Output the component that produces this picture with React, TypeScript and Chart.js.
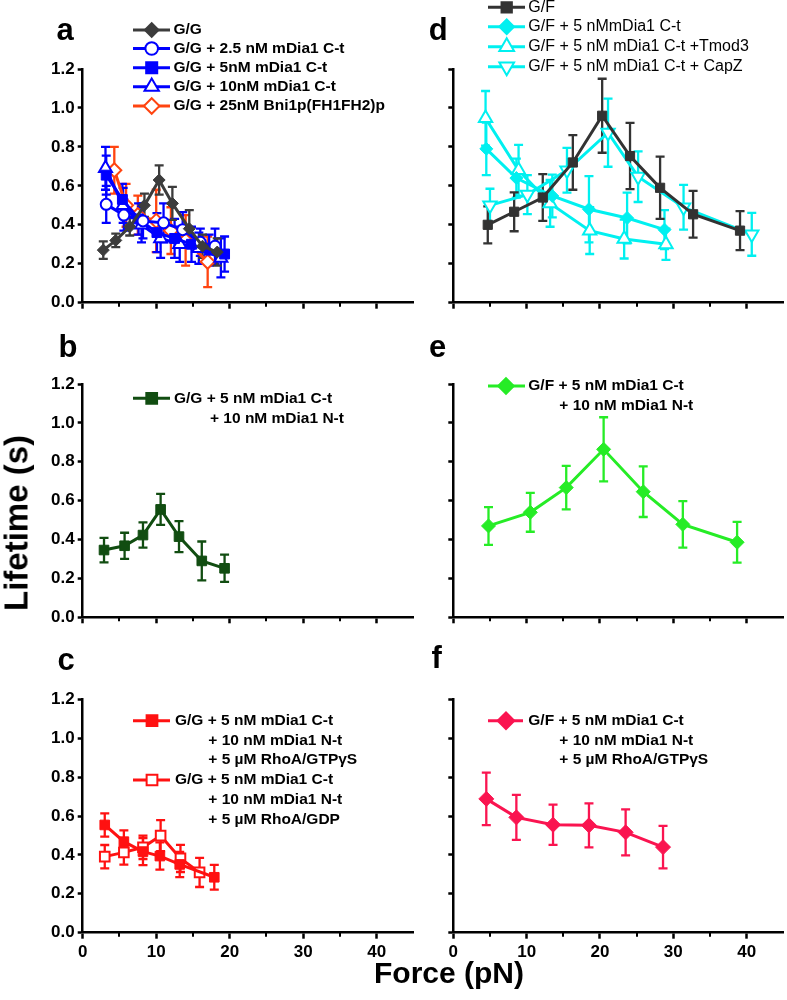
import React, { useEffect, useRef } from 'react';
import { Chart, registerables } from 'chart.js';

Chart.register(...registerables);

const FONT = "'Liberation Sans', Arial, Helvetica, sans-serif";

// ---------- shared axes ----------
const X_MIN = 0;
const X_MAX = 45;
const X_STEP = 5;
const X_LABEL_EVERY = 10;
const Y_MIN = 0;
const Y_MAX = 1.2;
const Y_STEP = 0.2;

// ---------- panel a (G/G) ----------
const aGG_x = [2.8, 4.5, 6.4, 8.4, 10.4, 12.2, 14.5, 16.3, 18.3];
const aGG_y = [0.27, 0.32, 0.39, 0.5, 0.63, 0.51, 0.38, 0.29, 0.26];
const aGG_e = [0.045, 0.035, 0.045, 0.06, 0.075, 0.085, 0.095, 0.06, 0.07];

const aC25_x = [3.2, 5.6, 8.2, 11.0, 13.6, 16.0, 18.0];
const aC25_y = [0.505, 0.45, 0.42, 0.41, 0.375, 0.31, 0.29];
const aC25_e = [0.095, 0.08, 0.09, 0.1, 0.09, 0.07, 0.09];

const aC5_x = [3.2, 5.4, 7.6, 10.1, 12.5, 14.8, 17.2, 19.3];
const aC5_y = [0.655, 0.53, 0.43, 0.36, 0.33, 0.3, 0.27, 0.25];
const aC5_e = [0.1, 0.08, 0.08, 0.1, 0.1, 0.09, 0.08, 0.09];

const aC10_x = [3.1, 5.5, 8.0, 10.6, 13.2, 15.8, 18.8];
const aC10_y = [0.69, 0.5, 0.4, 0.33, 0.3, 0.28, 0.23];
const aC10_e = [0.11, 0.09, 0.09, 0.1, 0.09, 0.08, 0.1];

const aBni_x = [4.3, 5.9, 7.5, 10.0, 12.0, 14.0, 17.0];
const aBni_y = [0.68, 0.5, 0.45, 0.42, 0.37, 0.32, 0.21];
const aBni_e = [0.12, 0.11, 0.1, 0.16, 0.12, 0.13, 0.13];

const aLabels = [
  ['G/G'],
  ['G/G + 2.5 nM mDia1 C-t'],
  ['G/G + 5nM mDia1 C-t'],
  ['G/G + 10nM mDia1 C-t'],
  ['G/G + 25nM Bni1p(FH1FH2)p'],
];

// ---------- panel b ----------
const b_x = [2.9, 5.7, 8.2, 10.6, 13.1, 16.2, 19.3];
const b_y = [0.346, 0.368, 0.423, 0.555, 0.415, 0.29, 0.252];
const b_e = [0.063, 0.067, 0.065, 0.08, 0.08, 0.1, 0.07];
const bLabels = [['G/G + 5 nM mDia1 C-t', '+ 10 nM mDia1 N-t']];

// ---------- panel c ----------
const cGTP_x = [3.0, 5.6, 8.2, 10.5, 13.2, 17.9];
const cGTP_y = [0.554, 0.468, 0.417, 0.394, 0.351, 0.285];
const cGTP_e = [0.06, 0.058, 0.07, 0.07, 0.065, 0.064];
const cGDP_x = [3.0, 5.6, 8.2, 10.6, 13.3, 15.9];
const cGDP_y = [0.391, 0.413, 0.439, 0.499, 0.382, 0.31];
const cGDP_e = [0.06, 0.063, 0.06, 0.08, 0.07, 0.075];
const cLabels = [
  ['G/G + 5 nM mDia1 C-t', '+ 10 nM mDia1 N-t', '+ 5 \u00B5M RhoA/GTP\u03B3S'],
  ['G/G + 5 nM mDia1 C-t', '+ 10 nM mDia1 N-t', '+ 5 \u00B5M RhoA/GDP'],
];

// ---------- panel d (G/F) ----------
const dGF_x = [4.7, 8.3, 12.2, 16.3, 20.3, 24.1, 28.2, 32.7, 39.1];
const dGF_y = [0.4, 0.467, 0.54, 0.72, 0.96, 0.753, 0.59, 0.454, 0.37];
const dGF_e = [0.095, 0.1, 0.12, 0.14, 0.19, 0.17, 0.16, 0.12, 0.1];

const dC5_x = [4.5, 8.6, 13.5, 18.5, 23.7, 28.8];
const dC5_y = [0.79, 0.64, 0.548, 0.48, 0.435, 0.375];
const dC5_e = [0.135, 0.1, 0.11, 0.17, 0.13, 0.1];

const dTmod_x = [4.4, 8.9, 13.2, 18.6, 23.3, 29.0];
const dTmod_y = [0.947, 0.68, 0.51, 0.37, 0.327, 0.3];
const dTmod_e = [0.14, 0.13, 0.12, 0.12, 0.1, 0.08];

const dCapZ_x = [5.0, 10.1, 15.5, 21.1, 25.2, 31.4, 40.7];
const dCapZ_y = [0.5, 0.555, 0.68, 0.873, 0.647, 0.49, 0.351];
const dCapZ_e = [0.085, 0.1, 0.115, 0.175, 0.13, 0.115, 0.11];

const dLabels = [
  ['G/F'],
  ['G/F + 5 nMmDia1 C-t'],
  ['G/F + 5 nM mDia1 C-t +Tmod3'],
  ['G/F + 5 nM mDia1 C-t + CapZ'],
];

// ---------- panel e ----------
const e_x = [4.8, 10.5, 15.4, 20.5, 25.9, 31.3, 38.7];
const e_y = [0.47, 0.54, 0.667, 0.864, 0.646, 0.478, 0.386];
const e_e = [0.097, 0.1, 0.112, 0.165, 0.13, 0.12, 0.105];
const eLabels = [['G/F + 5 nM mDia1 C-t', '+ 10 nM mDia1 N-t']];

// ---------- panel f ----------
const f_x = [4.5, 8.6, 13.6, 18.5, 23.5, 28.6];
const f_y = [0.688, 0.593, 0.555, 0.552, 0.516, 0.44];
const f_e = [0.135, 0.116, 0.103, 0.113, 0.118, 0.109];
const fLabels = [['G/F + 5 nM mDia1 C-t', '+ 10 nM mDia1 N-t', '+ 5 \u00B5M RhoA/GTP\u03B3S']];

// ---------- types ----------
type Series = {
  label: string[];
  x: number[];
  y: number[];
  err: number[];
  color: string;
  style: string;
  rotation?: number;
  open?: boolean;
  radius: number;
};

type LegendDef = {
  lineX1: number;
  lineX2: number;
  markerX: number;
  textX: number;
  contX: number;
  rows: number[];
  gap: number;
  font: string;
};

type PanelDef = {
  letter: string;
  letterX: number;
  letterY: number;
  canvas: { left: number; top: number; width: number; height: number };
  area: { left: number; top: number; right: number; bottom: number };
  yAxisW: number;
  xAxisH: number;
  showX: boolean;
  showY: boolean;
  series: Series[];
  legend: LegendDef;
};

// ---------- colours ----------
const GRAY = '#3c3c3c';
const BLUE = '#0000ff';
const ORANGE = '#ff4410';
const DARK = '#333333';
const CYAN = '#00f0f0';
const DGREEN = '#114d11';
const LIME = '#26ec26';
const RED = '#ff1111';
const CRIMSON = '#fa1450';

// ---------- geometry ----------
const COL_L = { left: 0, width: 430, areaLeft: 82.7, areaRight: 413.5, yAxisW: 82.7 };
const COL_R = { left: 420, width: 367, areaLeft: 453.3, areaRight: 783.3, yAxisW: 20 };
const ROW1 = { top: 0, height: 330, areaTop: 69, areaBottom: 302.7, xAxisH: 10 };
const ROW2 = { top: 330, height: 310, areaTop: 384, areaBottom: 617.3, xAxisH: 10 };
const ROW3 = { top: 640, height: 360, areaTop: 699.3, areaBottom: 932.7, xAxisH: 30 };

function geom(col: typeof COL_L, row: typeof ROW1) {
  return {
    canvas: { left: col.left, top: row.top, width: col.width, height: row.height },
    area: { left: col.areaLeft, top: row.areaTop, right: col.areaRight, bottom: row.areaBottom },
    yAxisW: col.yAxisW,
    xAxisH: row.xAxisH,
  };
}

const BOLD_LEG = `bold 15.5px ${FONT}`;
const REG_LEG = `16px ${FONT}`;

const panels: PanelDef[] = [
  {
    letter: 'a', letterX: 65, letterY: 40, ...geom(COL_L, ROW1), showX: false, showY: true,
    series: [
      { label: aLabels[0], x: aGG_x, y: aGG_y, err: aGG_e, color: GRAY, style: 'rectRot', radius: 6 },
      { label: aLabels[1], x: aC25_x, y: aC25_y, err: aC25_e, color: BLUE, style: 'circle', open: true, radius: 5.5 },
      { label: aLabels[2], x: aC5_x, y: aC5_y, err: aC5_e, color: BLUE, style: 'rect', radius: 7 },
      { label: aLabels[3], x: aC10_x, y: aC10_y, err: aC10_e, color: BLUE, style: 'triangle', open: true, radius: 7.5 },
      { label: aLabels[4], x: aBni_x, y: aBni_y, err: aBni_e, color: ORANGE, style: 'rectRot', open: true, radius: 7 },
    ],
    legend: { lineX1: 133, lineX2: 170, markerX: 151.7, textX: 173.5, contX: 173.5, rows: [30, 48.5, 67.7, 86.7, 106], gap: 19, font: BOLD_LEG },
  },
  {
    letter: 'b', letterX: 68, letterY: 357, ...geom(COL_L, ROW2), showX: false, showY: true,
    series: [
      { label: bLabels[0], x: b_x, y: b_y, err: b_e, color: DGREEN, style: 'rect', radius: 6.8 },
    ],
    legend: { lineX1: 133, lineX2: 170, markerX: 151.7, textX: 174, contX: 210, rows: [398.3], gap: 20, font: BOLD_LEG },
  },
  {
    letter: 'c', letterX: 66, letterY: 670, ...geom(COL_L, ROW3), showX: true, showY: true,
    series: [
      { label: cLabels[0], x: cGTP_x, y: cGTP_y, err: cGTP_e, color: RED, style: 'rect', radius: 6.8 },
      { label: cLabels[1], x: cGDP_x, y: cGDP_y, err: cGDP_e, color: RED, style: 'rect', open: true, radius: 6.8 },
    ],
    legend: { lineX1: 133, lineX2: 170, markerX: 152, textX: 175, contX: 208.3, rows: [720.7, 780], gap: 19.7, font: BOLD_LEG },
  },
  {
    letter: 'd', letterX: 438.3, letterY: 40, ...geom(COL_R, ROW1), showX: false, showY: false,
    series: [
      { label: dLabels[0], x: dGF_x, y: dGF_y, err: dGF_e, color: DARK, style: 'rect', radius: 6.5 },
      { label: dLabels[1], x: dC5_x, y: dC5_y, err: dC5_e, color: CYAN, style: 'rectRot', radius: 6.5 },
      { label: dLabels[2], x: dTmod_x, y: dTmod_y, err: dTmod_e, color: CYAN, style: 'triangle', open: true, radius: 7.7 },
      { label: dLabels[3], x: dCapZ_x, y: dCapZ_y, err: dCapZ_e, color: CYAN, style: 'triangle', rotation: 180, open: true, radius: 7.7 },
    ],
    legend: { lineX1: 488, lineX2: 525, markerX: 506.7, textX: 528.3, contX: 528.3, rows: [7.3, 26.7, 46.7, 66.7], gap: 20, font: REG_LEG },
  },
  {
    letter: 'e', letterX: 437.5, letterY: 356.7, ...geom(COL_R, ROW2), showX: false, showY: false,
    series: [
      { label: eLabels[0], x: e_x, y: e_y, err: e_e, color: LIME, style: 'rectRot', radius: 7 },
    ],
    legend: { lineX1: 488, lineX2: 525, markerX: 506, textX: 528.3, contX: 559.3, rows: [386], gap: 20, font: BOLD_LEG },
  },
  {
    letter: 'f', letterX: 436.7, letterY: 668, ...geom(COL_R, ROW3), showX: true, showY: false,
    series: [
      { label: fLabels[0], x: f_x, y: f_y, err: f_e, color: CRIMSON, style: 'rectRot', radius: 7.5 },
    ],
    legend: { lineX1: 488, lineX2: 523, markerX: 506, textX: 528.3, contX: 559.3, rows: [720.7], gap: 19.7, font: BOLD_LEG },
  },
];

function drawMarker(
  ctx: CanvasRenderingContext2D, style: string, x: number, y: number, r: number,
  rot: number, fill: string, stroke: string, lw: number,
) {
  ctx.save();
  ctx.beginPath();
  if (style === 'circle') {
    ctx.arc(x, y, r, 0, Math.PI * 2);
  } else if (style === 'rect') {
    const s = Math.SQRT1_2 * r;
    ctx.rect(x - s, y - s, 2 * s, 2 * s);
  } else if (style === 'rectRot') {
    ctx.moveTo(x - r, y);
    ctx.lineTo(x, y - r);
    ctx.lineTo(x + r, y);
    ctx.lineTo(x, y + r);
    ctx.closePath();
  } else {
    let a = (rot * Math.PI) / 180;
    ctx.moveTo(x + Math.sin(a) * r, y - Math.cos(a) * r);
    a += (2 * Math.PI) / 3;
    ctx.lineTo(x + Math.sin(a) * r, y - Math.cos(a) * r);
    a += (2 * Math.PI) / 3;
    ctx.lineTo(x + Math.sin(a) * r, y - Math.cos(a) * r);
    ctx.closePath();
  }
  ctx.fillStyle = fill;
  ctx.fill();
  ctx.lineWidth = lw;
  ctx.strokeStyle = stroke;
  ctx.stroke();
  ctx.restore();
}

function makePlugin(def: PanelDef) {
  const ox = def.canvas.left;
  const oy = def.canvas.top;
  return {
    id: 'panelDecor',
    beforeDatasetsDraw(chart: any) {
      const ctx: CanvasRenderingContext2D = chart.ctx;
      const ys = chart.scales.y;
      for (let di = def.series.length - 1; di >= 0; di--) {
        const s = def.series[di];
        const meta = chart.getDatasetMeta(di);
        ctx.save();
        ctx.strokeStyle = s.color;
        ctx.lineWidth = 2.3;
        meta.data.forEach((pt: any, i: number) => {
          const px = pt.x;
          const yt = ys.getPixelForValue(s.y[i] + s.err[i]);
          const yb = ys.getPixelForValue(s.y[i] - s.err[i]);
          ctx.beginPath();
          ctx.moveTo(px, yt);
          ctx.lineTo(px, yb);
          ctx.moveTo(px - 4.5, yt);
          ctx.lineTo(px + 4.5, yt);
          ctx.moveTo(px - 4.5, yb);
          ctx.lineTo(px + 4.5, yb);
          ctx.stroke();
        });
        ctx.restore();
      }
    },
    afterDraw(chart: any) {
      const ctx: CanvasRenderingContext2D = chart.ctx;
      const xs = chart.scales.x;
      const bottom = chart.chartArea.bottom;
      // minor x ticks
      ctx.save();
      ctx.strokeStyle = '#000';
      ctx.lineWidth = 2;
      for (let v = X_MIN + X_STEP; v < X_MAX; v += X_STEP) {
        if (v % X_LABEL_EVERY === 0) continue;
        const px = Math.round(xs.getPixelForValue(v));
        ctx.beginPath();
        ctx.moveTo(px, bottom);
        ctx.lineTo(px, bottom + 4);
        ctx.stroke();
      }
      ctx.restore();

      // legend
      const lg = def.legend;
      def.series.forEach((s, i) => {
        const y = lg.rows[i] - oy;
        ctx.save();
        ctx.strokeStyle = s.color;
        ctx.lineWidth = 3;
        ctx.beginPath();
        ctx.moveTo(lg.lineX1 - ox, y);
        ctx.lineTo(lg.lineX2 - ox, y);
        ctx.stroke();
        ctx.restore();
        drawMarker(ctx, s.style, lg.markerX - ox, y, s.radius + 0.8, s.rotation || 0,
          s.open ? '#ffffff' : s.color, s.color, 2);
        ctx.save();
        ctx.fillStyle = '#000';
        ctx.font = lg.font;
        ctx.textBaseline = 'middle';
        ctx.textAlign = 'left';
        s.label.forEach((t, k) => {
          ctx.fillText(t, (k === 0 ? lg.textX : lg.contX) - ox, y + k * lg.gap);
        });
        ctx.restore();
      });

      // panel letter
      ctx.save();
      ctx.fillStyle = '#000';
      ctx.font = `bold 31px ${FONT}`;
      ctx.textAlign = 'center';
      ctx.textBaseline = 'alphabetic';
      ctx.fillText(def.letter, def.letterX - ox, def.letterY - oy);
      ctx.restore();
    },
  };
}

function Panel({ def }: { def: PanelDef }) {
  const ref = useRef<HTMLCanvasElement | null>(null);
  useEffect(() => {
    const c = ref.current;
    if (!c) return;
    const pad = {
      left: def.area.left - def.canvas.left - def.yAxisW,
      right: def.canvas.left + def.canvas.width - def.area.right,
      top: def.area.top - def.canvas.top,
      bottom: def.canvas.top + def.canvas.height - def.area.bottom - def.xAxisH,
    };
    const tickFont = { family: FONT, size: 17, weight: 'bold' as const };
    const chart = new Chart(c, {
      type: 'line',
      data: {
        datasets: def.series.map((s) => ({
          label: s.label.join(' '),
          data: s.x.map((x, i) => ({ x, y: s.y[i] })),
          borderColor: s.color,
          backgroundColor: s.open ? '#ffffff' : s.color,
          pointBackgroundColor: s.open ? '#ffffff' : s.color,
          pointBorderColor: s.color,
          pointBorderWidth: s.open ? 2 : 1,
          pointStyle: s.style as any,
          pointRotation: s.rotation || 0,
          pointRadius: s.radius,
          borderWidth: 3,
          tension: 0,
          fill: false,
          clip: false as any,
        })),
      },
      options: {
        animation: false,
        responsive: false,
        events: [],
        layout: { autoPadding: false, padding: pad },
        plugins: {
          legend: { display: false },
          tooltip: { enabled: false },
          title: { display: false },
        },
        scales: {
          x: {
            type: 'linear',
            min: X_MIN,
            max: X_MAX,
            ticks: {
              stepSize: X_STEP,
              autoSkip: false,
              maxRotation: 0,
              padding: 3,
              color: '#000',
              font: tickFont,
              callback: (v: any) => (def.showX && Number(v) % X_LABEL_EVERY === 0 ? String(v) : ''),
            },
            grid: {
              drawOnChartArea: false,
              drawTicks: true,
              tickLength: 6,
              tickWidth: 2.5,
              tickColor: (c: any) => (c.tick && Number(c.tick.value) % X_LABEL_EVERY === 0 ? '#000' : 'rgba(0,0,0,0)'),
            },
            border: { display: true, color: '#000', width: 2.5 },
            afterFit: (s: any) => { s.height = def.xAxisH; },
          },
          y: {
            type: 'linear',
            min: Y_MIN,
            max: Y_MAX,
            ticks: {
              stepSize: Y_STEP,
              padding: 3,
              color: '#000',
              font: tickFont,
              callback: (v: any) => (def.showY ? Number(v).toFixed(1) : ''),
            },
            grid: {
              drawOnChartArea: false,
              drawTicks: true,
              tickLength: 5,
              tickWidth: 2.5,
              tickColor: '#000',
            },
            border: { display: true, color: '#000', width: 2.5 },
            afterFit: (s: any) => { s.width = def.yAxisW; },
          },
        },
      } as any,
      plugins: [makePlugin(def)],
    });
    return () => chart.destroy();
  }, [def]);
  return (
    <canvas
      ref={ref}
      width={def.canvas.width}
      height={def.canvas.height}
      style={{
        position: 'absolute',
        left: def.canvas.left,
        top: def.canvas.top,
        width: def.canvas.width,
        height: def.canvas.height,
      }}
    />
  );
}

export default function App() {
  return (
    <div
      style={{
        position: 'absolute',
        left: 0,
        top: 0,
        width: 787,
        height: 1000,
        overflow: 'hidden',
        background: '#ffffff',
        fontFamily: FONT,
      }}
    >
      {panels.map((p) => (
        <Panel key={p.letter} def={p} />
      ))}
      <div
        style={{
          position: 'absolute',
          left: 16,
          top: 523,
          transform: 'translate(-50%, -50%) rotate(-90deg)',
          fontWeight: 'bold',
          fontSize: 33,
          lineHeight: 1,
          whiteSpace: 'nowrap',
          color: '#000',
        }}
      >
        Lifetime (s)
      </div>
      <div
        style={{
          position: 'absolute',
          left: 449,
          top: 973,
          transform: 'translate(-50%, -50%)',
          fontWeight: 'bold',
          fontSize: 30,
          lineHeight: 1,
          whiteSpace: 'nowrap',
          color: '#000',
        }}
      >
        Force (pN)
      </div>
    </div>
  );
}
